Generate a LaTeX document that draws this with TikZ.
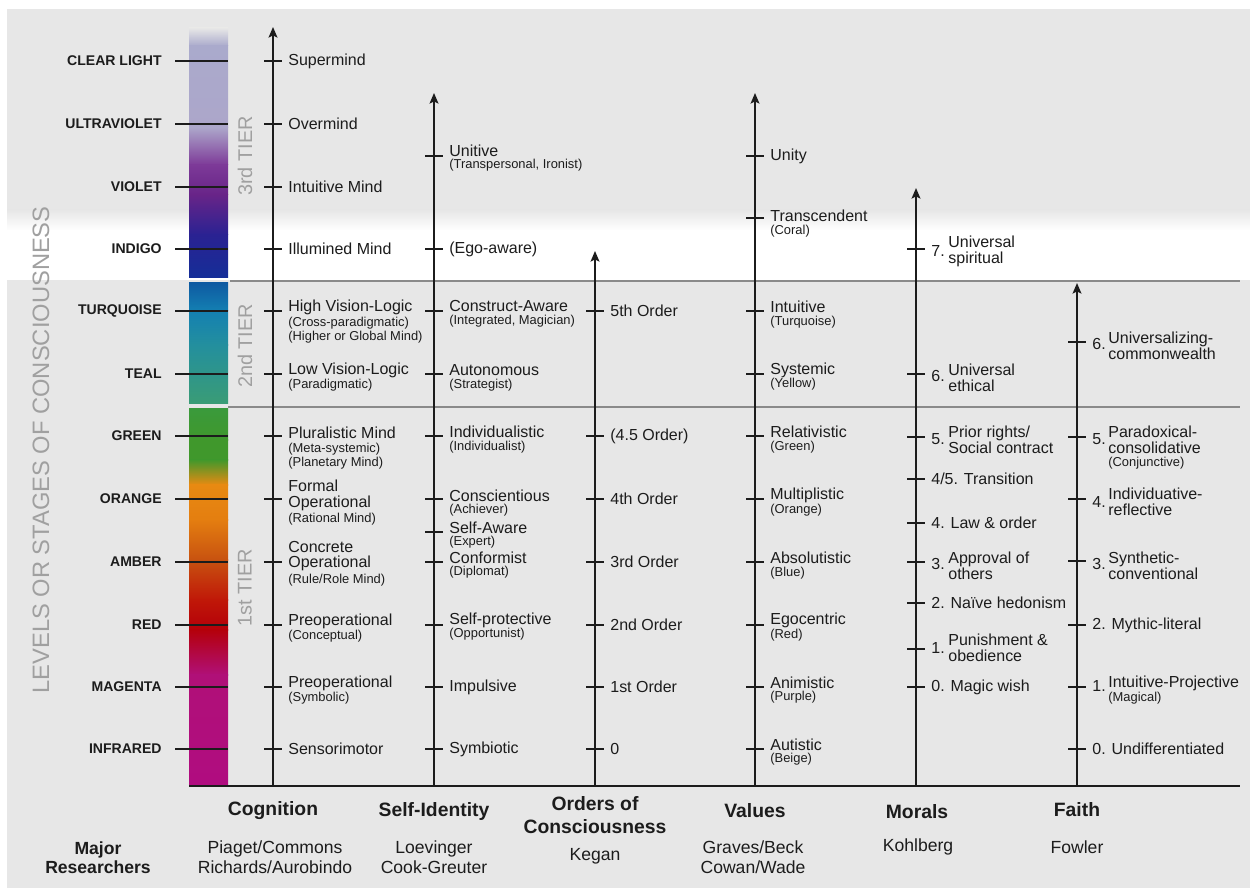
\documentclass[tikz,border=0pt]{standalone}
\usepackage{fontspec}
\setmainfont{Liberation Sans}
\usetikzlibrary{arrows.meta, positioning}

\definecolor{bggray}{RGB}{231,231,231}
\definecolor{inkdark}{RGB}{28,28,28}
\definecolor{tiergray}{RGB}{160,160,160}
\definecolor{tierline}{RGB}{138,138,138}
% spectrum bar
\definecolor{lavA}{RGB}{170,170,204}
\definecolor{lavB}{RGB}{172,166,202}
\definecolor{purpA}{RGB}{125,58,152}
\definecolor{purpB}{RGB}{104,36,136}
\definecolor{indA}{RGB}{42,34,146}
\definecolor{indB}{RGB}{20,46,152}
\definecolor{blueA}{RGB}{14,90,162}
\definecolor{blueB}{RGB}{20,128,178}
\definecolor{tealA}{RGB}{35,143,158}
\definecolor{tealB}{RGB}{58,156,118}
\definecolor{greenA}{RGB}{58,154,60}
\definecolor{greenB}{RGB}{64,152,44}
\definecolor{orangeA}{RGB}{232,138,18}
\definecolor{orangeB}{RGB}{228,126,16}
\definecolor{rust}{RGB}{200,82,16}
\definecolor{redA}{RGB}{192,24,8}
\definecolor{redB}{RGB}{180,0,10}
\definecolor{magA}{RGB}{176,16,120}
\definecolor{magB}{RGB}{176,12,128}

\begin{document}
\begin{tikzpicture}[
    x=0.02cm, y=-0.02cm,
    every node/.style={inner sep=0pt, text=inkdark},
    levelname/.style={font=\fontsize{8}{9}\selectfont\bfseries, anchor=east},
    stage/.style={font=\fontsize{9.1}{9}\selectfont, anchor=west, align=left},
    stagenote/.style={font=\fontsize{7.35}{8.3}\selectfont, anchor=west, align=left},
    tiername/.style={font=\fontsize{11.3}{12}\selectfont, text=tiergray, rotate=90},
    lineaxis/.style={line width=1.1pt, draw=inkdark, -{Stealth[length=6pt, width=5pt, inset=1.2pt]}},
    tickmark/.style={line width=0.85pt, draw=inkdark},
    tierbound/.style={line width=0.8pt, draw=tierline},
    heading/.style={font=\fontsize{11}{13.5}\selectfont\bfseries, align=center},
    researcher/.style={font=\fontsize{10}{11.3}\selectfont, align=center}
]
\useasboundingbox (0,0) rectangle (1250,888);

% background and white band
\fill[bggray] (7,9) rectangle (1250,888);
\fill[top color=bggray, bottom color=white] (7,210) rectangle (1250,230.5);
\fill[white] (7,230) rectangle (1250,280);

% spectrum bar
\foreach \ya/\yb/\ca/\cb in {28/46/bggray/lavA, 45.5/128/lavA/lavB, 127.5/165/lavB/purpA,
    164.5/195/purpA/purpB, 194.5/235/purpB/indA, 234.5/278/indA/indB,
    283/311/blueA/blueB, 310.5/345/blueB/tealA, 344.5/403/tealA/tealB,
    408/440/greenA/greenB, 439.5/460/greenB/greenB, 459.5/485/greenB/orangeA,
    484.5/520/orangeA/orangeB, 519.5/560/orangeB/rust, 559.5/600/rust/redA,
    599.5/630/redA/redB, 629.5/675/redB/magA, 674.5/786/magA/magB}
  \fill[top color=\ca, bottom color=\cb] (189,\ya) rectangle (228,\yb);

% tier boundaries
\coordinate (tierTwoL) at (230,281);
\coordinate (tierTwoR) at (1240,281);
\coordinate (tierOneL) at (228,407);
\coordinate (tierOneR) at (1240,407);
\draw[tierbound] (tierTwoL) -- (tierTwoR);
\draw[tierbound] (tierOneL) -- (tierOneR);

% levels
\foreach \y/\lvl in {61/CLEAR LIGHT, 124/ULTRAVIOLET, 187/VIOLET, 249/INDIGO, 311/TURQUOISE,
    374/TEAL, 436/GREEN, 499/ORANGE, 562/AMBER, 625/RED, 687/MAGENTA, 749/INFRARED} {
  \draw[tickmark, line width=0.75pt] (175,\y) -- (228,\y);
  \node[levelname] at (162,\y) {\lvl};
}

\node[font=\fontsize{13.5}{14}\selectfont, text=tiergray, rotate=90] (levelsTitle) at (41,450) {LEVELS OR STAGES OF CONSCIOUSNESS};
\node[tiername] (tierThree) at (245,156) {3rd TIER};
\node[tiername] (tierTwo) at (245,346) {2nd TIER};
\node[tiername] (tierOne) at (245,588) {1st TIER};

% axes
\coordinate (barFoot) at (189,786);
\coordinate (lineEnd) at (1240,786);
\foreach \name/\x/\top in {cog/273/27, self/434/93, order/595/251, value/755/93, moral/916/188, faith/1077/283} {
  \coordinate (\name Foot) at (\x,786);
  \coordinate (\name Top) at (\x,\top);
  \draw[lineaxis] (\name Foot) -- (\name Top);
}
\draw[line width=1.4pt, draw=inkdark] (barFoot) -- (lineEnd);

% ticks
\foreach \y in {61,124,187,249,311,374,436,499,562,625,687,749}
  \draw[tickmark] (264,\y) -- (282,\y);
\foreach \y in {156,249,311,374,436,499,532,562,625,687,749}
  \draw[tickmark] (425,\y) -- (443,\y);
\foreach \y in {311,436,499,562,625,687,749}
  \draw[tickmark] (586,\y) -- (604,\y);
\foreach \y in {156,218,311,374,436,499,562,625,687,749}
  \draw[tickmark] (746,\y) -- (764,\y);
\foreach \y in {249,374,437,479,523,562,603,649,687}
  \draw[tickmark] (907,\y) -- (925,\y);
\foreach \y in {342,437,499,561,625,687,749}
  \draw[tickmark] (1068,\y) -- (1086,\y);

% cognition
\node[stage] (cogSuper) at (288,61) {Supermind};
\node[stage] (cogOver) at (288,124) {Overmind};
\node[stage] (cogIntu) at (288,187) {Intuitive Mind};
\node[stage] (cogIllu) at (288,249) {Illumined Mind};
\node[stage] (cogHigh) at (288,307) {High Vision-Logic};
\node[stagenote] (cogHighN) at (288,330) {(Cross-paradigmatic)\\(Higher or Global Mind)};
\node[stage] (cogLow) at (288,370) {Low Vision-Logic};
\node[stagenote] (cogLowN) at (288,385) {(Paradigmatic)};
\node[stage] (cogPlur) at (288,433) {Pluralistic Mind};
\node[stagenote] (cogPlurN) at (288,456) {(Meta-systemic)\\(Planetary Mind)};
\node[stage] (cogForm) at (288,495) {Formal\\Operational};
\node[stagenote] (cogFormN) at (288,519) {(Rational Mind)};
\node[stage] (cogConc) at (288,556) {Concrete\\Operational};
\node[stagenote] (cogConcN) at (288,580) {(Rule/Role Mind)};
\node[stage] (cogPreC) at (288,621) {Preoperational};
\node[stagenote] (cogPreCN) at (288,636) {(Conceptual)};
\node[stage] (cogPreS) at (288,683) {Preoperational};
\node[stagenote] (cogPreSN) at (288,698) {(Symbolic)};
\node[stage] (cogSens) at (288,749) {Sensorimotor};

% self-identity
\node[stage] (selfUnit) at (449,151) {Unitive};
\node[stagenote] (selfUnitN) at (449,165) {(Transpersonal, Ironist)};
\node[stage] (selfEgo) at (449,249) {(Ego-aware)};
\node[stage] (selfCons) at (449,306) {Construct-Aware};
\node[stagenote] (selfConsN) at (449,321) {(Integrated, Magician)};
\node[stage] (selfAuto) at (449,370) {Autonomous};
\node[stagenote] (selfAutoN) at (449,385) {(Strategist)};
\node[stage] (selfIndi) at (449,432) {Individualistic};
\node[stagenote] (selfIndiN) at (449,447) {(Individualist)};
\node[stage] (selfConsc) at (449,496) {Conscientious};
\node[stagenote] (selfConscN) at (449,510) {(Achiever)};
\node[stage] (selfAware) at (449,528) {Self-Aware};
\node[stagenote] (selfAwareN) at (449,542) {(Expert)};
\node[stage] (selfConf) at (449,558) {Conformist};
\node[stagenote] (selfConfN) at (449,572) {(Diplomat)};
\node[stage] (selfProt) at (449,620) {Self-protective};
\node[stagenote] (selfProtN) at (449,634) {(Opportunist)};
\node[stage] (selfImp) at (449,687) {Impulsive};
\node[stage] (selfSym) at (449,749) {Symbiotic};

% orders of consciousness
\node[stage] (orderFive) at (610,311) {5th Order};
\node[stage] (orderHalf) at (610,436) {(4.5 Order)};
\node[stage] (orderFour) at (610,499) {4th Order};
\node[stage] (orderThree) at (610,562) {3rd Order};
\node[stage] (orderTwo) at (610,625) {2nd Order};
\node[stage] (orderOne) at (610,687) {1st Order};
\node[stage] (orderZero) at (610,749) {0};

% values
\node[stage] (valUnity) at (770,156) {Unity};
\node[stage] (valTrans) at (770,216) {Transcendent};
\node[stagenote] (valTransN) at (770,231) {(Coral)};
\node[stage] (valIntu) at (770,307) {Intuitive};
\node[stagenote] (valIntuN) at (770,322) {(Turquoise)};
\node[stage] (valSyst) at (770,370) {Systemic};
\node[stagenote] (valSystN) at (770,384) {(Yellow)};
\node[stage] (valRela) at (770,432) {Relativistic};
\node[stagenote] (valRelaN) at (770,447) {(Green)};
\node[stage] (valMult) at (770,495) {Multiplistic};
\node[stagenote] (valMultN) at (770,510) {(Orange)};
\node[stage] (valAbso) at (770,558) {Absolutistic};
\node[stagenote] (valAbsoN) at (770,573) {(Blue)};
\node[stage] (valEgo) at (770,620) {Egocentric};
\node[stagenote] (valEgoN) at (770,635) {(Red)};
\node[stage] (valAnim) at (770,683) {Animistic};
\node[stagenote] (valAnimN) at (770,697) {(Purple)};
\node[stage] (valAuti) at (770,745) {Autistic};
\node[stagenote] (valAutiN) at (770,759) {(Beige)};

% morals
\node[stage] (morSevenN) at (931,251) {7.};
\node[stage] (morSeven) at (948,251) {Universal\\spiritual};
\node[stage] (morSixN) at (931,376) {6.};
\node[stage] (morSix) at (948,378) {Universal\\ethical};
\node[stage] (morFiveN) at (931,439) {5.};
\node[stage] (morFive) at (948,440) {Prior rights/\\Social contract};
\node[stage] (morTrans) at (931,479) {4/5. Transition};
\node[stage] (morFour) at (931,523) {4. Law \& order};
\node[stage] (morThreeN) at (931,564) {3.};
\node[stage] (morThree) at (948,566) {Approval of\\others};
\node[stage] (morTwo) at (931,603) {2. Naïve hedonism};
\node[stage] (morOneN) at (931,648) {1.};
\node[stage] (morOne) at (948,648) {Punishment \&\\obedience};
\node[stage] (morZero) at (931,687) {0. Magic wish};

% faith
\node[stage] (faiSixN) at (1092,344) {6.};
\node[stage] (faiSix) at (1108,346) {Universalizing-\\commonwealth};
\node[stage] (faiFiveN) at (1092,439) {5.};
\node[stage] (faiFive) at (1108,440) {Paradoxical-\\consolidative};
\node[stagenote] (faiFiveX) at (1108,463) {(Conjunctive)};
\node[stage] (faiFourN) at (1092,502) {4.};
\node[stage] (faiFour) at (1108,502) {Individuative-\\reflective};
\node[stage] (faiThreeN) at (1092,564) {3.};
\node[stage] (faiThree) at (1108,566) {Synthetic-\\conventional};
\node[stage] (faiTwo) at (1092,625) {2. Mythic-literal};
\node[stage] (faiOneN) at (1092,686) {1.};
\node[stage] (faiOne) at (1108,683) {Intuitive-Projective};
\node[stagenote] (faiOneX) at (1108,698) {(Magical)};
\node[stage] (faiZero) at (1092,749) {0. Undifferentiated};

% column headings and researchers
\node[heading] (cogHead) at (273,811) {Cognition};
\node[heading] (selfHead) at (434,811) {Self-Identity};
\node[heading] (orderHead) at (595,815) {Orders of\\Consciousness};
\node[heading] (valHead) at (755,811) {Values};
\node[heading] (morHead) at (917,812) {Morals};
\node[heading] (faiHead) at (1077,810) {Faith};

\node[heading, font=\fontsize{10}{11}\selectfont\bfseries] (majorHead) at (98,858) {Major\\Researchers};
\node[researcher] (cogRes) at (275,857) {Piaget/Commons\\Richards/Aurobindo};
\node[researcher] (selfRes) at (434,857) {Loevinger\\Cook-Greuter};
\node[researcher] (orderRes) at (595,856) {Kegan};
\node[researcher] (valRes) at (753,857) {Graves/Beck\\Cowan/Wade};
\node[researcher] (morRes) at (918,847) {Kohlberg};
\node[researcher] (faiRes) at (1077,847) {Fowler};

\end{tikzpicture}
\end{document}
